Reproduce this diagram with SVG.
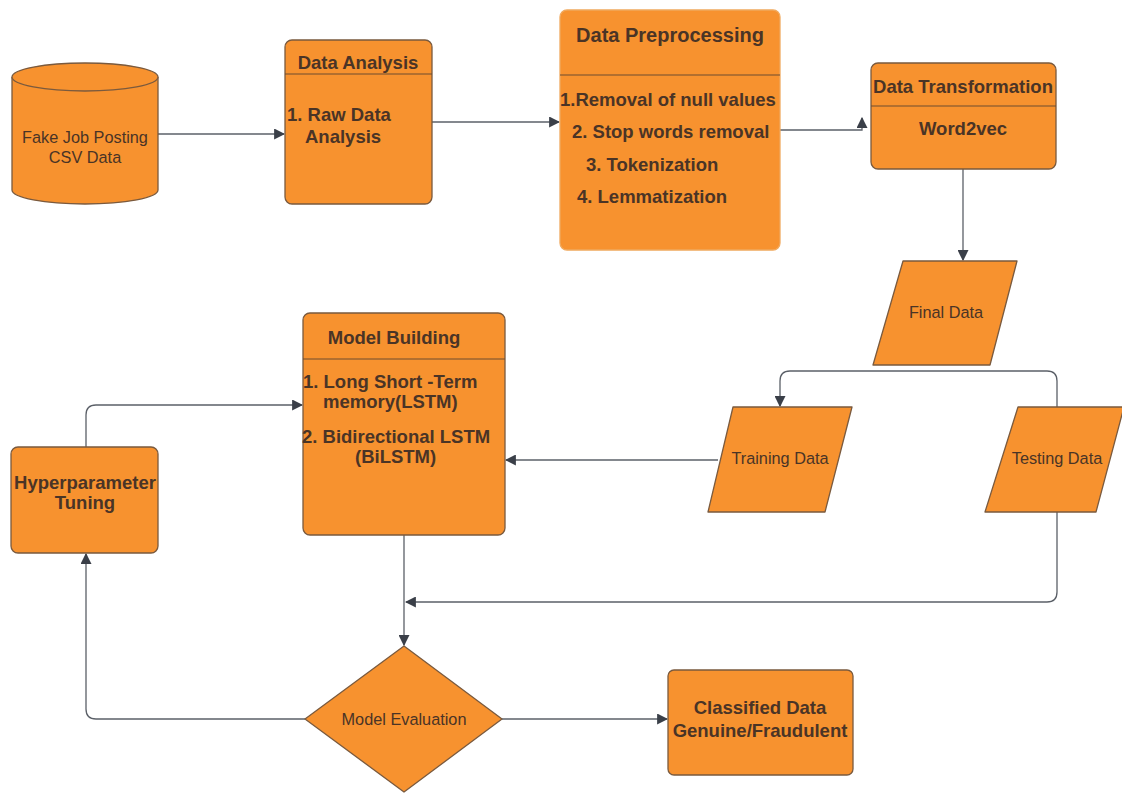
<svg xmlns="http://www.w3.org/2000/svg" width="1122" height="794" viewBox="0 0 1122 794">
<style>
.shape{fill:#F7922F;stroke:#7a5a3e;stroke-width:1.3}
.light{fill:#F7922F;stroke:#f0a95e;stroke-width:1.3}
.sep{stroke:#6e4c30;stroke-width:1.2;fill:none}
.conn{fill:none;stroke:#5b6068;stroke-width:1.3}
text{font-family:"Liberation Sans",Arial,sans-serif;fill:#4a3426}
.b{font-weight:bold;font-size:18.5px}
.t{font-weight:bold;font-size:18.5px}
.n{font-size:16.3px}
.c{text-anchor:middle}
</style>
<defs>
<marker id="ah" viewBox="0 0 10 10" refX="9" refY="5" markerWidth="11" markerHeight="11" markerUnits="userSpaceOnUse" orient="auto">
<path d="M0,0 L10,5 L0,10 Z" fill="#3a3f48"/>
</marker>
</defs>
<g id="connectors">
<path class="conn" d="M158,134 H284" marker-end="url(#ah)"/>
<path class="conn" d="M432,122 H559" marker-end="url(#ah)"/>
<path class="conn" d="M780,130 H862 V118" marker-end="url(#ah)"/>
<path class="conn" d="M963,169 V260" marker-end="url(#ah)"/>
<path class="conn" d="M1057,407 V381 Q1057,371 1047,371 H790 Q780,371 780,381 V406" marker-end="url(#ah)"/>
<path class="conn" d="M718,460 H506" marker-end="url(#ah)"/>
<path class="conn" d="M1057,512 V592 Q1057,602 1047,602 H406" marker-end="url(#ah)"/>
<path class="conn" d="M404,535 V645" marker-end="url(#ah)"/>
<path class="conn" d="M502,719 H667" marker-end="url(#ah)"/>
<path class="conn" d="M305,719 H96 Q86,719 86,709 V554" marker-end="url(#ah)"/>
<path class="conn" d="M86,447 V415 Q86,405 96,405 H302" marker-end="url(#ah)"/>
</g>
<g id="csv">
<path class="shape" d="M12,77 V190 A73,14 0 0 0 158,190 V77 A73,14 0 0 0 12,77 Z"/>
<path class="shape" d="M12,77 A73,14 0 0 0 158,77"/>
<text class="n c" x="85" y="143">Fake Job Posting</text>
<text class="n c" x="85" y="163">CSV Data</text>
</g>
<g id="data-analysis">
<rect class="shape" x="285" y="40" width="147" height="164" rx="7"/>
<line class="sep" x1="285" y1="74" x2="432" y2="74"/>
<text class="t c" x="358" y="69">Data Analysis</text>
<text class="b" x="287" y="121">1. Raw Data</text>
<text class="b" x="305" y="143">Analysis</text>
</g>
<g id="data-preprocessing">
<rect class="light" x="560" y="10" width="220" height="240" rx="7"/>
<line class="sep" x1="560" y1="75" x2="780" y2="75"/>
<text class="c" x="670" y="42" style="font-weight:bold;font-size:20px">Data Preprocessing</text>
<text class="b" x="560" y="106">1.Removal of null values</text>
<text class="b" x="572" y="138">2. Stop words removal</text>
<text class="b" x="586" y="171">3. Tokenization</text>
<text class="b" x="577" y="203">4. Lemmatization</text>
</g>
<g id="data-transformation">
<rect class="shape" x="871" y="63" width="185" height="106" rx="7"/>
<line class="sep" x1="871" y1="106" x2="1056" y2="106"/>
<text class="t c" x="963" y="93">Data Transformation</text>
<text class="t c" x="963" y="135">Word2vec</text>
</g>
<g id="final-data">
<path class="shape" d="M903,261 H1017 L990,365 H873 Z" stroke-linejoin="round"/>
<text class="n c" x="946" y="318">Final Data</text>
</g>
<g id="training-data">
<path class="shape" d="M733,407 H852 L825,512 H708 Z" stroke-linejoin="round"/>
<text class="n c" x="780" y="464">Training Data</text>
</g>
<g id="testing-data">
<path class="shape" d="M1018,407 H1124 L1096,512 H985 Z" stroke-linejoin="round"/>
<text class="n c" x="1057" y="464">Testing Data</text>
</g>
<g id="model-building">
<rect class="shape" x="303" y="313" width="202" height="222" rx="7"/>
<line class="sep" x1="303" y1="359" x2="505" y2="359"/>
<text class="t c" x="394" y="344">Model Building</text>
<text class="b" x="303" y="388">1. Long Short -Term</text>
<text class="b" x="323" y="408">memory(LSTM)</text>
<text class="b" x="302" y="443">2. Bidirectional LSTM</text>
<text class="b" x="355" y="463">(BiLSTM)</text>
</g>
<g id="hyperparameter-tuning">
<rect class="shape" x="11" y="447" width="147" height="106" rx="7"/>
<text class="b c" x="85" y="489">Hyperparameter</text>
<text class="b c" x="85" y="509">Tuning</text>
</g>
<g id="model-evaluation">
<path class="shape" d="M404,646 L502,719 L404,792 L305,719 Z" stroke-linejoin="round"/>
<text class="n c" x="404" y="725">Model Evaluation</text>
</g>
<g id="classified-data">
<rect class="shape" x="668" y="670" width="185" height="105" rx="6"/>
<text class="b c" x="760" y="714">Classified Data</text>
<text class="b c" x="760" y="737">Genuine/Fraudulent</text>
</g>
</svg>
